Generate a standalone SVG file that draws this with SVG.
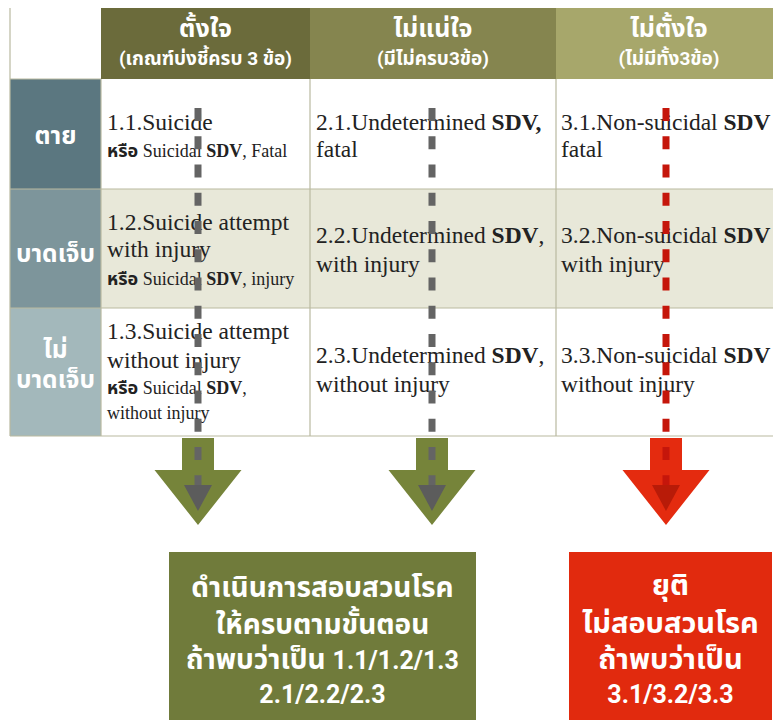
<svg xmlns="http://www.w3.org/2000/svg" width="773" height="720" viewBox="0 0 773 720">
<style>
.th{font-family:Roboto,"Noto Sans Thai","Noto Sans","DejaVu Sans",sans-serif;font-weight:bold;fill:#fff;text-anchor:middle}
.h1{font-size:25px}
.h2{font-size:19px}
.rl{font-size:24.5px}
.ct{font-family:"Liberation Serif","Noto Sans Thai",serif;font-size:23.5px;fill:#222}
.cs{font-family:"Liberation Serif","Noto Sans Thai",serif;font-size:18px;fill:#222}
.b{font-weight:bold}
.grid{stroke:#b9b9a0;stroke-width:1.2;fill:none}
.dg{stroke:#646464;stroke-width:7;stroke-dasharray:13 15.25;fill:none}
.dr{stroke:#c5160b;stroke-width:7;stroke-dasharray:13 15.25;fill:none}
.bt{font-family:Roboto,"Noto Sans Thai","Noto Sans","DejaVu Sans",sans-serif;font-weight:bold;fill:#fff;text-anchor:middle;font-size:28px}
.rt{font-size:29px}
.dn{font-size:25px}
</style>
<rect width="773" height="720" fill="#fff"/>
<g id="header">
  <rect x="101" y="8" width="209" height="71" fill="#6b6b3b"/>
  <rect x="310" y="8" width="246" height="71" fill="#85854f"/>
  <rect x="556" y="8" width="220" height="71" fill="#a7a76b"/>
  <text class="th" x="205.5" y="37"><tspan class="h1">ตั้งใจ</tspan><tspan class="h2" x="205.5" y="65">(เกณฑ์บ่งชี้ครบ 3 ข้อ)</tspan></text>
  <text class="th" x="433" y="37"><tspan class="h1">ไม่แน่ใจ</tspan><tspan class="h2" x="433" y="65">(มีไม่ครบ3ข้อ)</tspan></text>
  <text class="th" x="669" y="37"><tspan class="h1">ไม่ตั้งใจ</tspan><tspan class="h2" x="669" y="65">(ไม่มีทั้ง3ข้อ)</tspan></text>
</g>
<g id="row-labels">
  <rect x="10" y="79" width="91" height="110" fill="#5b7780"/>
  <rect x="10" y="189" width="91" height="119" fill="#7d959b"/>
  <rect x="10" y="308" width="91" height="128" fill="#a3b8bb"/>
  <text class="th rl" x="55.5" y="144">ตาย</text>
  <text class="th rl" x="55.5" y="262">บาดเจ็บ</text>
  <text class="th rl" x="55.5" y="358">ไม่<tspan x="55.5" y="388">บาดเจ็บ</tspan></text>
</g>
<g id="cells">
  <rect x="101" y="79" width="675" height="110" fill="#fff"/>
  <rect x="101" y="189" width="675" height="119" fill="#e8e8d9"/>
  <rect x="101" y="308" width="675" height="128" fill="#fff"/>
  <g id="c11"><text class="ct" x="107" y="130">1.1.Suicide</text>
  <text class="cs" x="107" y="157"><tspan class="b">หรือ</tspan> Suicidal <tspan class="b">SDV</tspan>, Fatal</text></g>
  <g id="c21"><text class="ct" x="316" y="130">2.1.Undetermined <tspan class="b">SDV,</tspan></text>
  <text class="ct" x="316" y="157">fatal</text></g>
  <g id="c31"><text class="ct" x="561" y="130">3.1.Non-suicidal <tspan class="b">SDV</tspan></text>
  <text class="ct" x="561" y="157">fatal</text></g>
  <g id="c12"><text class="ct" x="107" y="230">1.2.Suicide attempt</text>
  <text class="ct" x="107" y="257">with injury</text>
  <text class="cs" x="107" y="285"><tspan class="b">หรือ</tspan> Suicidal <tspan class="b">SDV</tspan>, injury</text></g>
  <g id="c22"><text class="ct" x="316" y="243">2.2.Undetermined <tspan class="b">SDV</tspan>,</text>
  <text class="ct" x="316" y="272">with injury</text></g>
  <g id="c32"><text class="ct" x="561" y="243">3.2.Non-suicidal <tspan class="b">SDV</tspan></text>
  <text class="ct" x="561" y="272">with injury</text></g>
  <g id="c13"><text class="ct" x="107" y="339">1.3.Suicide attempt</text>
  <text class="ct" x="107" y="368">without injury</text>
  <text class="cs" x="107" y="394"><tspan class="b">หรือ</tspan> Suicidal <tspan class="b">SDV</tspan>,</text>
  <text class="cs" x="107" y="419">without injury</text></g>
  <g id="c23"><text class="ct" x="316" y="363">2.3.Undetermined <tspan class="b">SDV</tspan>,</text>
  <text class="ct" x="316" y="392">without injury</text></g>
  <g id="c33"><text class="ct" x="561" y="363">3.3.Non-suicidal <tspan class="b">SDV</tspan></text>
  <text class="ct" x="561" y="392">without injury</text></g>
</g>
<g id="grid" class="grid">
  <line x1="10" y1="8" x2="10" y2="436"/>
  <line x1="101" y1="79" x2="101" y2="436"/>
  <line x1="310" y1="79" x2="310" y2="436"/>
  <line x1="556" y1="79" x2="556" y2="436"/>
  <line x1="10" y1="79" x2="101" y2="79"/>
  <line x1="10" y1="189" x2="773" y2="189"/>
  <line x1="10" y1="308" x2="773" y2="308"/>
  <line x1="10" y1="436" x2="773" y2="436"/>
</g>
<g id="connectors">
  <polygon points="182,438 214,438 214,470 241.5,470 198,525 154.5,470 182,470" fill="#76843a"/>
  <polygon points="416,438 448,438 448,470 475.5,470 432,525 388.5,470 416,470" fill="#76843a"/>
  <polygon points="650,438 682,438 682,470 709.5,470 666,525 622.5,470 650,470" fill="#e42b0f"/>
  <line class="dg" x1="198" y1="108" x2="198" y2="486"/>
  <polygon points="184,485 212,485 198,511" fill="#5c5c5c"/>
  <line class="dg" x1="432" y1="108" x2="432" y2="486"/>
  <polygon points="418,485 446,485 432,511" fill="#5c5c5c"/>
  <line class="dr" x1="666" y1="108" x2="666" y2="486"/>
  <polygon points="652,485 680,485 666,511" fill="#b81b08"/>
</g>
<g id="box-investigate">
  <rect x="169" y="552" width="307" height="172" fill="#707b3b"/>
  <text class="bt" x="322.5" y="597">ดำเนินการสอบสวนโรค<tspan x="322.5" y="634">ให้ครบตามขั้นตอน</tspan><tspan x="322.5" y="669">ถ้าพบว่าเป็น <tspan class="dn">1.1/1.2/1.3</tspan></tspan><tspan class="dn" x="322.5" y="703">2.1/2.2/2.3</tspan></text>
</g>
<g id="box-stop">
  <rect x="569" y="552" width="203" height="172" fill="#e12a0e"/>
  <text class="bt rt" x="670.5" y="595">ยุติ<tspan x="670.5" y="633">ไม่สอบสวนโรค</tspan><tspan x="670.5" y="669">ถ้าพบว่าเป็น</tspan><tspan class="dn" x="670.5" y="703">3.1/3.2/3.3</tspan></text>
</g>
</svg>
